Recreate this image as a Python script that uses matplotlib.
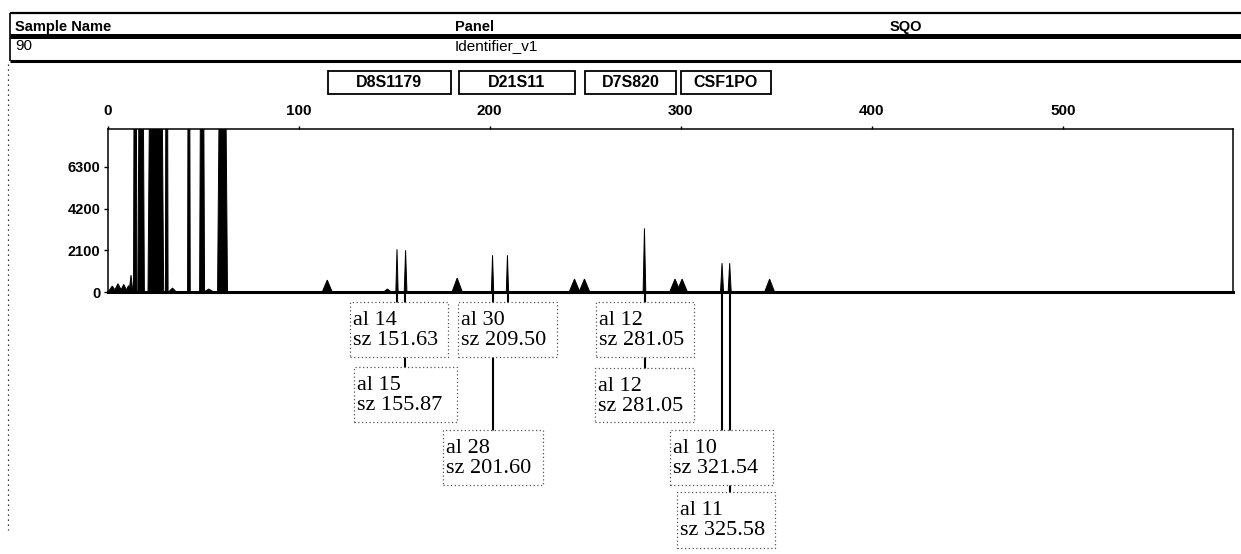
import matplotlib
matplotlib.use("Agg")
import matplotlib.pyplot as plt
from matplotlib.patches import Rectangle
from matplotlib.lines import Line2D
import matplotlib.transforms as mtransforms

W, H = 1241, 554

# ---------------- data ----------------
# header table
header_cols = ["Sample Name", "Panel", "SQO"]
header_vals = ["90", "Identifier_v1", ""]

# loci bins (bp)
locus_names = ["D8S1179", "D21S11", "D7S820", "CSF1PO"]
locus_start = [115.5, 184.0, 250.0, 300.0]
locus_end = [179.5, 244.5, 297.5, 347.0]

# axis ticks
x_ticks = [0, 100, 200, 300, 400, 500]
y_ticks = [0, 2100, 4200, 6300]

# peaks: centre (bp), height (RFU), half base width (bp)
peak_pos = [2.5, 5.5, 8.5, 11.0, 12.3, 14.5, 17.6, 23.6, 27.0, 31.0, 34.0, 42.6,
            49.5, 53.0, 60.2, 115.0, 146.5, 151.5, 156.0, 183.0, 201.5, 209.3,
            244.4, 249.6, 281.0, 297.0, 300.7, 321.6, 325.6, 346.5]
peak_height = [300, 420, 380, 320, 850, 30000, 30000, 30000, 30000, 30000, 200, 30000,
               30000, 150, 30000, 600, 150, 2150, 2100, 700, 1850, 1850,
               650, 650, 3200, 650, 650, 1450, 1450, 650]
peak_halfw = [2.2, 2.2, 2.0, 1.6, 1.0, 0.9, 1.7, 2.4, 2.4, 0.7, 2.0, 0.7,
              1.3, 2.5, 2.6, 2.6, 2.0, 0.6, 0.7, 2.7, 0.6, 0.6,
              2.8, 2.8, 0.7, 2.8, 2.8, 0.8, 0.8, 2.6]

# allele calls
call_allele = ["14", "15", "30", "28", "12", "12", "10", "11"]
call_size = [151.63, 155.87, 209.50, 201.60, 281.05, 281.05, 321.54, 325.58]

# ---------------- layout ----------------
# label boxes (left px, top px, width px, height px)
box_geom = [(350, 302, 98, 55), (354, 367, 103, 55), (458, 302, 99, 55),
            (443, 430, 100, 55), (596, 302, 98, 55), (595, 368, 99, 54),
            (670, 430, 103, 55), (677, 492, 98, 56)]

def fx(px):
    return px / W

def fy(py):
    return 1 - py / H

fig = plt.figure(figsize=(W / 100, H / 100), dpi=100)
fig.patch.set_facecolor("white")

ax = fig.add_axes([fx(107.5), fy(292), fx(1233) - fx(107.5), fy(129) - fy(292)])
ax.set_xlim(0, 589)
ax.set_ylim(0, 8200)

for c, h, hw in zip(peak_pos, peak_height, peak_halfw):
    ax.fill([c - hw, c, c + hw], [0, h, 0], color="black", lw=0.7, zorder=2)

ax.xaxis.tick_top()
ax.set_xticks(x_ticks)
ax.set_yticks(y_ticks)
ax.tick_params(axis="x", length=2, pad=6, labelsize=11, width=1)
ax.tick_params(axis="y", length=3, pad=2, labelsize=10.5, width=1)
for lab in ax.get_xticklabels() + ax.get_yticklabels():
    lab.set_fontweight("bold")
    lab.set_family("Liberation Sans")
for s in ["top", "left", "right"]:
    ax.spines[s].set_linewidth(1.1)
ax.spines["bottom"].set_linewidth(2.2)

# ---------------- header ----------------
hl = dict(color="black", solid_capstyle="butt")
fig.add_artist(Line2D([fx(10), 1], [fy(13), fy(13)], lw=1.6, **hl))
fig.add_artist(Line2D([fx(10), 1], [fy(36), fy(36)], lw=3.6, **hl))
fig.add_artist(Line2D([fx(10), 1], [fy(61), fy(61)], lw=2.2, **hl))
fig.add_artist(Line2D([fx(10), fx(10)], [fy(13), fy(61)], lw=1.2, **hl))
fig.add_artist(Line2D([fx(8), fx(8)], [fy(64), fy(530)], lw=0.9, color="black",
                      linestyle=(0, (1, 3))))

col_x = [15, 455, 890]
for x, t in zip(col_x, header_cols):
    fig.text(fx(x), fy(27), t, fontsize=10.5, fontweight="bold",
             family="Liberation Sans", va="center", ha="left")
for x, t in zip(col_x, header_vals):
    if t:
        fig.text(fx(x), fy(46), t, fontsize=11, family="Liberation Sans",
                 va="center", ha="left")

# locus bins
bx = mtransforms.blended_transform_factory(ax.transData, fig.transFigure)
for name, s, e in zip(locus_names, locus_start, locus_end):
    fig.add_artist(Rectangle((s, fy(94)), e - s, fy(71) - fy(94), transform=bx,
                             facecolor="white", edgecolor="black", lw=1.3,
                             clip_on=False))
    fig.text((s + e) / 2, fy(82.5), name, transform=bx, fontsize=11.5,
             fontweight="bold", family="Liberation Sans", ha="center",
             va="center")

# ---------------- allele call labels ----------------
for sz, (l, t, w, h) in zip(call_size, box_geom):
    fig.add_artist(Line2D([sz, sz], [fy(292), fy(t)], transform=bx, lw=1.5,
                          color="black", zorder=1))
for al, sz, (l, t, w, h) in zip(call_allele, call_size, box_geom):
    fig.add_artist(Rectangle((fx(l), fy(t + h)), fx(w), fy(t) - fy(t + h),
                             facecolor="white", edgecolor="#555555", lw=0.9,
                             linestyle=(0, (1, 2)), zorder=2))
    fig.text(fx(l + 3), fy(t + 9), f"al {al}\nsz {sz:.2f}", fontsize=16,
             family="Liberation Serif", va="top", ha="left", linespacing=1.05,
             zorder=3)

fig.savefig("out.png", dpi=100)
